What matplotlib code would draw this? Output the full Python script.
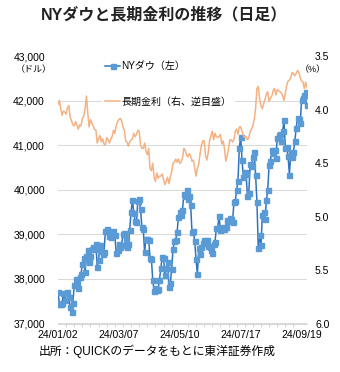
import matplotlib
matplotlib.use("Agg")
import matplotlib.pyplot as plt
from matplotlib.ticker import FuncFormatter, MultipleLocator

plt.rcParams["font.family"] = ["Liberation Sans", "Noto Sans CJK JP", "DejaVu Sans"]

# 2024/01/02 - 2024/09/25 (営業日)
X_LABELS = ["24/01/02", "24/03/07", "24/05/10", "24/07/17", "24/09/19"]
X_LABEL_POS = [0, 45, 90, 135, 180]

DOW = [
    # Jan
    37715, 37430, 37440, 37466, 37683, 37525, 37696, 37711, 37593, 37361, 37267,
    37469, 37864, 38001, 37906, 37806, 38050, 38109, 38333, 38467, 38150,
    # Feb
    38520, 38654, 38380, 38521, 38677, 38726, 38671, 38797, 38273, 38424, 38773,
    38628, 38564, 38612, 39069, 39131, 39069, 38973, 38949, 38996,
    # Mar
    39087, 38990, 38585, 38661, 38791, 38723, 38770, 39005, 39043, 38906, 38715,
    38790, 39111, 39512, 39781, 39476, 39313, 39282, 39760, 39807,
    # Apr
    39567, 39170, 39127, 38597, 38904, 38892, 38883, 38462, 38459, 37983, 37735,
    37799, 37753, 37775, 37986, 38240, 38504, 38461, 38086, 38240, 38386, 37816,
    # May
    37903, 38226, 38676, 38852, 38884, 39056, 39388, 39513, 39432, 39558, 39908,
    39869, 40004, 39807, 39873, 39671, 39065, 39070, 38853, 38442, 38112, 38686,
    # Jun
    38571, 38711, 38807, 38886, 38799, 38868, 38747, 38712, 38648, 38589, 38778,
    38834, 39135, 39150, 39411, 39112, 39128, 39164, 39119,
    # Jul
    39170, 39332, 39308, 39376, 39345, 39291, 39722, 39753, 40001, 40212, 40954,
    41198, 40665, 40288, 40415, 40358, 39854, 39935, 40589, 40540, 40743, 40843,
    # Aug
    40348, 39737, 38703, 38998, 38763, 39446, 39498, 39357, 39766, 40009, 40563,
    40660, 40897, 40835, 40891, 40713, 41175, 41240, 41250, 41091, 41335, 41563,
    # Sep
    40937, 40975, 40756, 40345, 40830, 40737, 40861, 41097, 41394, 41622, 41606,
    41504, 42025, 42063, 42124, 42208, 41915,
]

YIELD = [
    # Jan
    3.95, 3.91, 3.99, 4.05, 4.01, 4.02, 4.04, 3.98, 3.96, 4.07, 4.10,
    4.14, 4.15, 4.11, 4.14, 4.18, 4.14, 4.15, 4.08, 4.06, 3.99,
    # Feb
    3.87, 4.03, 4.16, 4.09, 4.12, 4.15, 4.18, 4.19, 4.31, 4.27, 4.24,
    4.30, 4.27, 4.32, 4.33, 4.26, 4.28, 4.31, 4.27, 4.25,
    # Mar
    4.19, 4.22, 4.15, 4.11, 4.09, 4.08, 4.10, 4.16, 4.19, 4.29, 4.30,
    4.34, 4.30, 4.28, 4.27, 4.22, 4.25, 4.23, 4.19, 4.20,
    # Apr
    4.33, 4.36, 4.36, 4.31, 4.39, 4.42, 4.36, 4.55, 4.57, 4.50, 4.63,
    4.67, 4.59, 4.64, 4.62, 4.62, 4.60, 4.65, 4.70, 4.67, 4.63, 4.69,
    # May
    4.63, 4.58, 4.50, 4.49, 4.46, 4.49, 4.46, 4.50, 4.49, 4.45, 4.36,
    4.38, 4.42, 4.44, 4.41, 4.43, 4.48, 4.47, 4.54, 4.62, 4.55, 4.51,
    # Jun
    4.41, 4.33, 4.29, 4.29, 4.43, 4.47, 4.40, 4.29, 4.24, 4.20, 4.28,
    4.22, 4.25, 4.26, 4.25, 4.23, 4.32, 4.29, 4.36,
    # Jul
    4.48, 4.43, 4.36, 4.28, 4.28, 4.30, 4.28, 4.20, 4.18, 4.23, 4.16,
    4.16, 4.20, 4.24, 4.26, 4.25, 4.28, 4.26, 4.20, 4.18, 4.15, 4.09,
    # Aug
    3.99, 3.80, 3.78, 3.90, 3.96, 3.99, 3.94, 3.90, 3.85, 3.83, 3.92,
    3.89, 3.87, 3.82, 3.80, 3.86, 3.81, 3.82, 3.83, 3.84, 3.87, 3.91,
    # Sep
    3.84, 3.77, 3.73, 3.72, 3.70, 3.65, 3.66, 3.68, 3.66, 3.63, 3.65,
    3.70, 3.73, 3.74, 3.80, 3.74, 3.79,
]

DOW_TICKS = [37000, 38000, 39000, 40000, 41000, 42000, 43000]
YIELD_TICKS = [3.5, 4.0, 4.5, 5.0, 5.5, 6.0]

GRID = "#D9D9D9"
BLUE_LINE = "#2F74C0"
BLUE_MK = "#5B9BD5"
ORANGE = "#F4B183"
W, H = 340, 372

x = list(range(len(DOW)))

fig = plt.figure(figsize=(W / 100, H / 100), dpi=100)
ax = fig.add_axes([58 / W, 1 - 323.5 / H, 249 / W, 267 / H])

ax.plot(x, DOW, color=BLUE_LINE, lw=1.1, marker="s", ms=3.6,
        mfc=BLUE_MK, mec=BLUE_MK, label="NYダウ（左）", zorder=3)
ax.set_xlim(0, len(DOW) - 1)
ax.set_ylim(37000, 43000)
ax.set_yticks(DOW_TICKS)
ax.yaxis.set_major_formatter(FuncFormatter(lambda v, p: f"{v:,.0f}"))
ax.grid(axis="y", color=GRID, lw=0.75)
ax.set_axisbelow(True)
for s in ("left", "right", "top"):
    ax.spines[s].set_visible(False)
ax.spines["bottom"].set_color(GRID)
ax.spines["bottom"].set_linewidth(0.75)

ax.set_xticks(X_LABEL_POS)
ax.set_xticklabels(X_LABELS)
ax.xaxis.set_minor_locator(MultipleLocator(6))
ax.tick_params(axis="x", which="major", length=0, pad=4.5, labelsize=7.5)
ax.tick_params(axis="x", which="minor", length=2.5, color=GRID, width=0.75)
ax.tick_params(axis="y", length=0, pad=9.4, labelsize=7.5)

ax2 = ax.twinx()
ax2.plot(x, YIELD, color=ORANGE, lw=1.1, label="長期金利（右、逆目盛）")
ax2.set_ylim(6.0, 3.5)
ax2.set_yticks(YIELD_TICKS)
ax2.set_yticklabels([f"{v:.1f}" for v in YIELD_TICKS])
ax2.tick_params(axis="y", length=0, pad=5.8, labelsize=7.5)
for s in ax2.spines.values():
    s.set_visible(False)

h1, l1 = ax.get_legend_handles_labels()
h2, l2 = ax2.get_legend_handles_labels()
leg = ax2.legend(h1 + h2, l1 + l2, loc="upper left",
                 bbox_to_anchor=(102 / W, 1 - 58 / H), bbox_transform=fig.transFigure,
                 fontsize=7.2, frameon=True, facecolor="white", edgecolor="none",
                 framealpha=1, fancybox=False, borderpad=0.3, borderaxespad=0,
                 handlelength=1.5, handletextpad=0.15, labelspacing=2.55, numpoints=1)

fig.text(164 / W, 1 - 15 / H, "NYダウと長期金利の推移（日足）", ha="center", va="center",
         fontsize=11.5, fontweight="bold", color="#222222")
fig.text(52 / W, 1 - 70 / H, "（ドル）", ha="right", va="center", fontsize=6.5)
fig.text(300 / W, 1 - 70 / H, "（%）", ha="left", va="center", fontsize=6.5)
fig.text(39 / W, 1 - 351 / H, "出所：QUICKのデータをもとに東洋証券作成", ha="left",
         va="center", fontsize=8.5)

fig.savefig("out.png", dpi=100)
